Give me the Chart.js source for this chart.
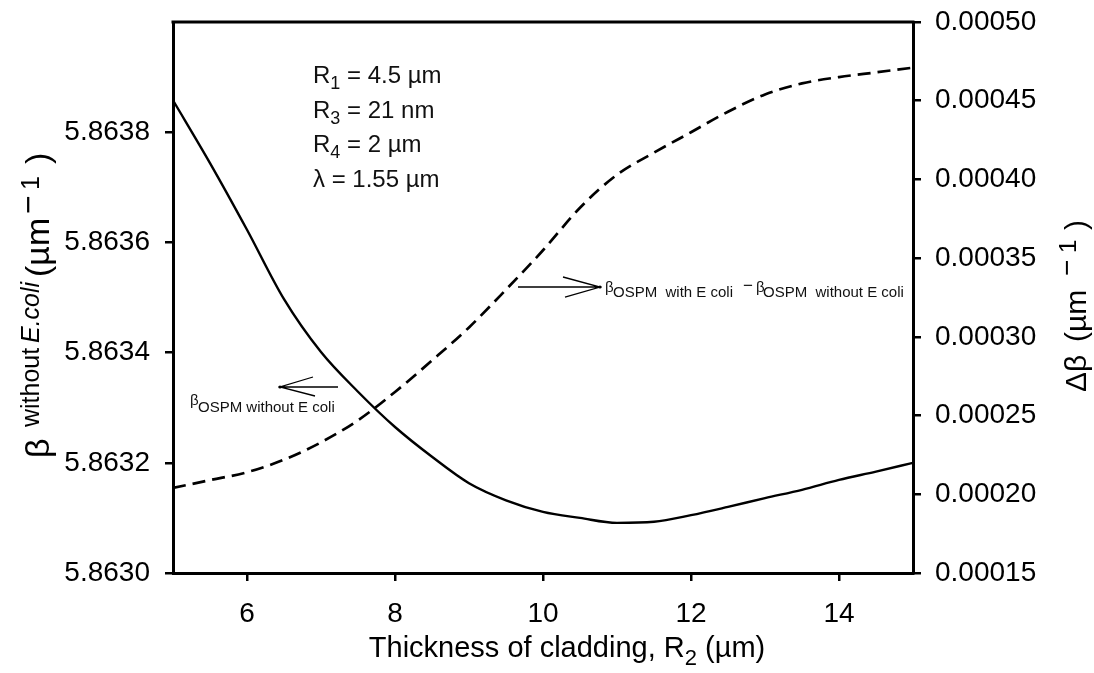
<!DOCTYPE html>
<html>
<head>
<meta charset="utf-8">
<script src="https://cdn.jsdelivr.net/npm/chart.js@4.4.0/dist/chart.umd.min.js"></script>
<style>
  body { margin: 0; background: #fff; }
</style>
</head>
<body>
<canvas id="chart" width="1094" height="673"></canvas>
<script>
// cladding thickness R2 (um)
const r2 = [5, 5.5, 6, 6.5, 7, 7.5, 8, 8.5, 9, 9.5, 10, 10.5, 11, 11.5, 12, 12.5, 13, 13.5, 14, 14.5, 15];
// beta without E.coli (um^-1), solid line, left axis
const betaWithout = [5.863858, 5.863744, 5.863623, 5.863497, 5.863401, 5.863329, 5.863265, 5.863211, 5.863163, 5.863132,
  5.863111, 5.863100, 5.863091, 5.863093, 5.863105, 5.863120, 5.863136, 5.863151, 5.863169, 5.863184, 5.863200];
// delta beta (um^-1), dashed line, right axis
const deltaBeta = [0.000204, 0.000209, 0.000214, 0.000222, 0.000233, 0.000247, 0.000265, 0.000285, 0.000306, 0.000330,
  0.000355, 0.000382, 0.000403, 0.000417, 0.000430, 0.000443, 0.000454, 0.000461, 0.000465, 0.000468, 0.000471];

const xTicks = [6, 8, 10, 12, 14];
const leftTicks = [5.8630, 5.8632, 5.8634, 5.8636, 5.8638];
const rightTicks = [0.00015, 0.00020, 0.00025, 0.00030, 0.00035, 0.00040, 0.00045, 0.00050];

const FAM = '"Liberation Sans", Arial, sans-serif';
const f = (size, style) => (style ? style + ' ' : '') + size + 'px ' + FAM;

// draw a run of text pieces along a line; each piece: [text, size, rise, style, u]
function drawRun(ctx, pieces) {
  pieces.forEach(p => {
    ctx.font = f(p[1], p[3]);
    ctx.fillText(p[0], p[4], -p[2]);
  });
}

function arrow(ctx, tip, tail, b1, b2) {
  ctx.beginPath();
  ctx.moveTo(tail[0], tail[1]); ctx.lineTo(tip[0], tip[1]);
  ctx.moveTo(b1[0], b1[1]); ctx.lineTo(tip[0], tip[1]); ctx.lineTo(b2[0], b2[1]);
  ctx.stroke();
  ctx.beginPath();
  ctx.arc(tip[0], tip[1], 1.6, 0, Math.PI * 2);
  ctx.fill();
}

const extras = {
  id: 'extras',
  afterDraw(chart) {
    const ctx = chart.ctx;
    const a = chart.chartArea;
    ctx.save();
    ctx.strokeStyle = '#000';
    ctx.fillStyle = '#000';
    // top frame line
    ctx.lineWidth = 3;
    ctx.beginPath();
    ctx.moveTo(a.left - 1.5, a.top);
    ctx.lineTo(a.right + 1.5, a.top);
    ctx.stroke();

    ctx.textBaseline = 'alphabetic';
    ctx.textAlign = 'left';

    // x title
    ctx.font = f(29);
    const t1 = 'Thickness of cladding, R', t3 = ' (\u00b5m)';
    const w1 = ctx.measureText(t1).width, w3 = ctx.measureText(t3).width;
    ctx.font = f(22);
    const w2 = ctx.measureText('2').width;
    let x0 = 567 - (w1 + w2 + w3) / 2;
    ctx.font = f(29); ctx.fillText(t1, x0, 657);
    ctx.font = f(22); ctx.fillText('2', x0 + w1, 665);
    ctx.font = f(29); ctx.fillText(t3, x0 + w1 + w2, 657);

    // left title, rotated
    ctx.save();
    ctx.translate(49, 458);
    ctx.rotate(-Math.PI / 2);
    drawRun(ctx, [
      ['\u03b2', 34, 0, '', 0],
      ['without', 25, 10, '', 31],
      ['E.coli', 25, 10, 'italic', 115],
      ['(\u00b5m', 34, 0, '', 181],
      ['\u2212', 32, 10, '', 244],
      ['1', 25, 10, '', 268],
      [')', 34, 0, '', 294]
    ]);
    ctx.restore();

    // right title, rotated
    ctx.save();
    ctx.translate(1086, 392);
    ctx.rotate(-Math.PI / 2);
    drawRun(ctx, [
      ['\u0394\u03b2', 30, 0, '', 0],
      ['(\u00b5m', 30, 0, '', 50],
      ['\u2212', 28, 10, '', 116],
      ['1', 24, 10, '', 139],
      [')', 30, 0, '', 162]
    ]);
    ctx.restore();

    // parameter block
    ctx.fillStyle = '#111';
    const px = 313;
    const rows = [['R', '1', ' = 4.5 \u00b5m', 83], ['R', '3', ' = 21 nm', 117.5], ['R', '4', ' = 2 \u00b5m', 152]];
    rows.forEach(r => {
      ctx.font = f(24);
      ctx.fillText(r[0], px, r[3]);
      const wr = ctx.measureText(r[0]).width;
      ctx.font = f(18);
      ctx.fillText(r[1], px + wr, r[3] + 6);
      const ws = ctx.measureText(r[1]).width;
      ctx.font = f(24);
      ctx.fillText(r[2], px + wr + ws, r[3]);
    });
    ctx.font = f(24);
    ctx.fillText('\u03bb = 1.55 \u00b5m', px, 186.5);

    // arrows
    ctx.lineWidth = 1.3;
    ctx.strokeStyle = '#000';
    ctx.fillStyle = '#000';
    arrow(ctx, [280, 387], [338, 387], [313, 377], [315, 396]);
    arrow(ctx, [600, 287], [518, 287], [563, 277], [565, 297]);

    // curve labels
    ctx.fillStyle = '#111';
    ctx.font = f(15);
    ctx.fillText('\u03b2', 190, 405);
    ctx.fillText('OSPM without E coli', 198, 412, 142);

    ctx.fillText('\u03b2', 605, 292);
    ctx.fillText('OSPM  with E coli', 613, 297, 125);
    ctx.font = f(17);
    ctx.fillText('\u2212', 743, 291);
    ctx.font = f(15);
    ctx.fillText('\u03b2', 756, 292);
    ctx.fillText('OSPM  without E coli', 763, 297, 145);
    ctx.restore();
  }
};

const gridOpts = { drawOnChartArea: false, drawTicks: true, tickLength: 8, color: '#000', lineWidth: 2.5 };
const borderOpts = { display: true, color: '#000', width: 3 };
const tickFont = { family: FAM, size: 28 };

// fix the box size and drop the label overhang so the plot area sits where it should
const fitY = w => s => { s.width = w; s.paddingTop = 0; s.paddingBottom = 0; };

new Chart(document.getElementById('chart'), {
  type: 'line',
  data: {
    datasets: [
      {
        label: 'beta without E.coli',
        data: r2.map((x, i) => ({ x: x, y: betaWithout[i] })),
        yAxisID: 'yL',
        borderColor: '#000',
        borderWidth: 2.4,
        pointRadius: 0,
        fill: false,
        cubicInterpolationMode: 'monotone'
      },
      {
        label: 'delta beta',
        data: r2.map((x, i) => ({ x: x, y: deltaBeta[i] })),
        yAxisID: 'yR',
        borderColor: '#000',
        borderWidth: 2.7,
        borderDash: [13, 7],
        pointRadius: 0,
        fill: false,
        cubicInterpolationMode: 'monotone'
      }
    ]
  },
  options: {
    responsive: false,
    animation: false,
    events: [],
    layout: { padding: { top: 22, left: 0, right: 0, bottom: 0 } },
    plugins: { legend: { display: false }, tooltip: { enabled: false } },
    scales: {
      x: {
        type: 'linear',
        position: 'bottom',
        min: 5,
        max: 15,
        afterBuildTicks: s => { s.ticks = xTicks.map(v => ({ value: v })); },
        afterFit: s => { s.height = 100; s.paddingLeft = 0; s.paddingRight = 0; },
        ticks: { font: tickFont, color: '#000', padding: 16, maxRotation: 0, callback: v => String(v) },
        grid: gridOpts,
        border: borderOpts
      },
      yL: {
        type: 'linear',
        position: 'left',
        min: 5.863,
        max: 5.864,
        afterBuildTicks: s => { s.ticks = leftTicks.map(v => ({ value: v })); },
        afterFit: fitY(173),
        ticks: { font: tickFont, color: '#000', padding: 15, callback: v => v.toFixed(4) },
        grid: gridOpts,
        border: borderOpts
      },
      yR: {
        type: 'linear',
        position: 'right',
        min: 0.00015,
        max: 0.0005,
        afterBuildTicks: s => { s.ticks = rightTicks.map(v => ({ value: v })); },
        afterFit: fitY(181),
        ticks: { font: tickFont, color: '#000', padding: 14, callback: v => v.toFixed(5) },
        grid: gridOpts,
        border: borderOpts
      }
    }
  },
  plugins: [extras]
});
</script>
</body>
</html>
